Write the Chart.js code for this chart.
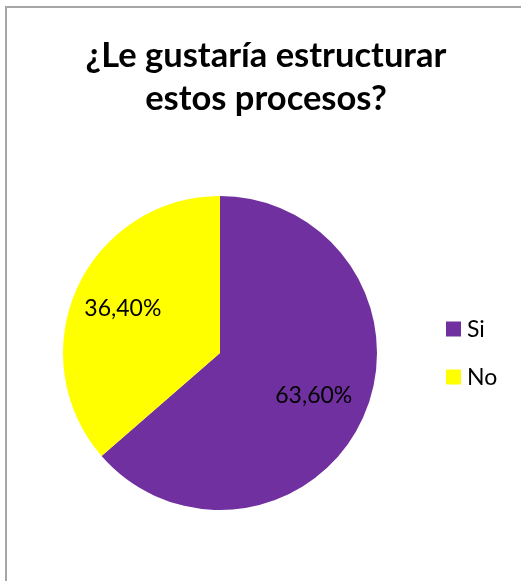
<!DOCTYPE html>
<html>
<head>
<meta charset="utf-8">
<script src="https://cdn.jsdelivr.net/npm/chart.js@4.4.0/dist/chart.umd.min.js"></script>
<style>
  html, body { margin: 0; padding: 0; background: #fff; overflow: hidden; }
  #frame {
    position: absolute;
    left: 5px;
    top: 6px;
    width: 530px;
    height: 600px;
    border-left: 2px solid #a6a6a6;
    border-top: 2px solid #a6a6a6;
  }
  #myChart { display: block; }
</style>
</head>
<body>
<div id="frame"><canvas id="myChart" width="518" height="574"></canvas></div>
<script>
// answers to the survey question
const labels = ["Si", "No"];
const values = [63.6, 36.4];
const colors = ["#7030A0", "#FFFF00"];

const titleLines = ["¿Le gustaría estructurar", "estos procesos?"];
const fontName = "Lato, 'Open Sans', sans-serif";

// title, slice percentages and the legend on the right
const textLayer = {
    id: "textLayer",
    afterDatasetsDraw(chart, args, opts) {
        let ctx = chart.ctx;
        let area = chart.chartArea;
        let meta = chart.getDatasetMeta(0);
        ctx.save();
        ctx.fillStyle = "#000";

        // two line bold title, centred on the canvas
        ctx.font = "bold " + opts.titleSize + "px " + fontName;
        ctx.textAlign = "center";
        ctx.textBaseline = "alphabetic";
        titleLines.forEach((line, i) => {
            ctx.fillText(line, chart.width / 2, opts.titleTop + i * opts.titleGap);
        });

        // percentage inside each slice
        ctx.font = opts.size + "px " + fontName;
        ctx.textBaseline = "middle";
        meta.data.forEach((arc, i) => {
            let p = arc.getProps(["x", "y", "startAngle", "endAngle", "outerRadius"], true);
            let mid = (p.startAngle + p.endAngle) / 2;
            let r = p.outerRadius * opts.dist[i];
            let text = values[i].toFixed(2).replace(".", ",") + "%";
            ctx.fillText(text, p.x + Math.cos(mid) * r, p.y + Math.sin(mid) * r);
        });

        // legend: square + label per category
        let lx = area.right + opts.legendGap;
        let cy = (area.top + area.bottom) / 2 - (labels.length - 1) * opts.legendRow / 2;
        ctx.textAlign = "left";
        labels.forEach((name, i) => {
            let y = cy + i * opts.legendRow;
            ctx.fillStyle = colors[i];
            ctx.fillRect(lx, y - opts.box / 2, opts.box, opts.box);
            ctx.fillStyle = "#000";
            ctx.fillText(name, lx + opts.box + 6, y + 1);
        });
        ctx.restore();
    }
};

let config = {
    type: "pie",
    data: {
        labels: labels,
        datasets: [
            {
                data: values,
                backgroundColor: colors,
                borderWidth: 0,
                hoverOffset: 0
            }
        ]
    },
    options: {
        responsive: false,
        animation: false,
        layout: {
            padding: { left: 56, right: 148, top: 188, bottom: 72 }
        },
        plugins: {
            title: { display: false },
            legend: { display: false },
            tooltip: { enabled: false },
            textLayer: {
                titleSize: 34.5,
                titleTop: 59,
                titleGap: 43,
                size: 23,
                dist: [0.656, 0.68],
                legendGap: 69,
                legendRow: 48,
                box: 15
            }
        }
    },
    plugins: [textLayer]
};

let ctx = document.getElementById("myChart").getContext("2d");
let myChart = new Chart(ctx, config);
</script>
</body>
</html>
